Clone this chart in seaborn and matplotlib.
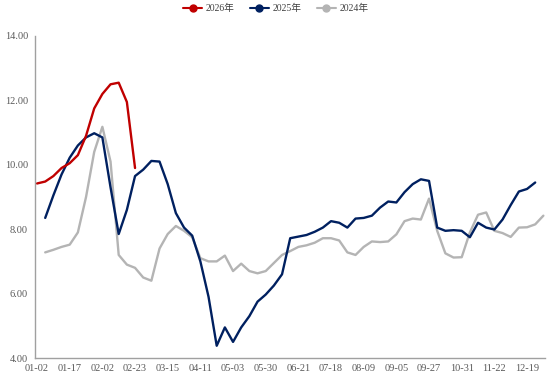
import numpy as np
import pandas as pd
import matplotlib
matplotlib.use("Agg")
import matplotlib.pyplot as plt
from matplotlib.lines import Line2D
import seaborn as sns

# x axis: category positions, 4 per labelled tick
tick_labels = ["01-02", "01-17", "02-02", "02-23", "03-15", "04-11", "05-03", "05-30",
               "06-21", "07-18", "08-09", "09-05", "09-27", "10-31", "11-22", "12-19"]

nan = np.nan
s2026 = [9.42, 9.48, 9.65, 9.9, 10.05, 10.3, 10.9, 11.75, 12.2, 12.5, 12.55, 11.95, 9.9]

s2025 = [nan, 8.35, 9.05, 9.7, 10.22, 10.6, 10.85, 10.98, 10.85, 9.3,
         7.85, 8.6, 9.65, 9.85, 10.12, 10.1, 9.4, 8.5, 8.05, 7.8,
         7.0, 5.9, 4.38, 4.95, 4.5, 4.95, 5.3, 5.75, 5.97, 6.25,
         6.6, 7.72, 7.77, 7.82, 7.92, 8.05, 8.25, 8.2, 8.05, 8.33,
         8.35, 8.42, 8.67, 8.86, 8.83, 9.15, 9.4, 9.55, 9.5, 8.05,
         7.95, 7.97, 7.95, 7.75, 8.2, 8.05, 7.99, 8.3, 8.75, 9.17,
         9.25, 9.45]

s2024 = [nan, 7.28, 7.36, 7.45, 7.52, 7.9, 9.0, 10.4, 11.18, 10.1,
         7.2, 6.9, 6.8, 6.5, 6.4, 7.4, 7.85, 8.1, 7.95, 7.75,
         7.1, 7.0, 7.0, 7.18, 6.7, 6.93, 6.7, 6.63, 6.7, 6.95,
         7.2, 7.32, 7.45, 7.5, 7.58, 7.72, 7.72, 7.65, 7.28, 7.2,
         7.45, 7.62, 7.6, 7.62, 7.84, 8.25, 8.33, 8.3, 8.95, 7.95,
         7.25, 7.12, 7.13, 7.9, 8.45, 8.52, 7.95, 7.88, 7.76, 8.05,
         8.06, 8.15, 8.42]

series = {"2026年": s2026, "2025年": s2025, "2024年": s2024}
colors = {"2026年": "#C00000", "2025年": "#002060", "2024年": "#B4B4B4"}

frames = []
for name, vals in series.items():
    frames.append(pd.DataFrame({"idx": np.arange(len(vals)), "value": vals, "year": name}))
df = pd.concat(frames).dropna()

sns.set_style("white")
plt.rcParams["font.family"] = ["Liberation Serif", "Noto Sans CJK SC"]

fig = plt.figure(figsize=(5.52, 3.75), dpi=100)
ax = fig.add_axes([35 / 552, 1 - 358 / 375, 510 / 552, 322 / 375])

# draw oldest first so newer years sit on top
for name in ["2024年", "2025年", "2026年"]:
    sns.lineplot(data=df[df["year"] == name], x="idx", y="value", color=colors[name],
                 linewidth=1.7, ax=ax, legend=False)

ax.set_xlim(-0.25, 62.2)
ax.set_ylim(4, 14)
ax.set_xticks(np.arange(0, 4 * len(tick_labels), 4))
ax.set_xticklabels(tick_labels)
ax.set_yticks(np.arange(4, 14.1, 2))
ax.set_yticklabels([f"{v:.2f}" for v in np.arange(4, 14.1, 2)])
ax.set_xlabel("")
ax.set_ylabel("")

for side in ["top", "right"]:
    ax.spines[side].set_visible(False)
for side in ["left", "bottom"]:
    ax.spines[side].set_color("#A0A0A0")
    ax.spines[side].set_linewidth(1.0)
ax.tick_params(axis="both", length=3, width=0.8, color="#A0A0A0", labelsize=7.5,
               labelcolor="#595959", pad=2, direction="out")
ax.tick_params(axis="x", pad=1.5)

handles = [Line2D([0], [0], color=colors[n], lw=1.5, marker="o", markersize=5)
           for n in series]
fig.legend(handles, list(series.keys()), loc="upper center", bbox_to_anchor=(0.5, 1.012),
           ncol=3, frameon=False, fontsize=7, handlelength=1.9, handletextpad=0.4,
           columnspacing=1.6, labelcolor="#404040")

fig.savefig("out.png", dpi=100)
